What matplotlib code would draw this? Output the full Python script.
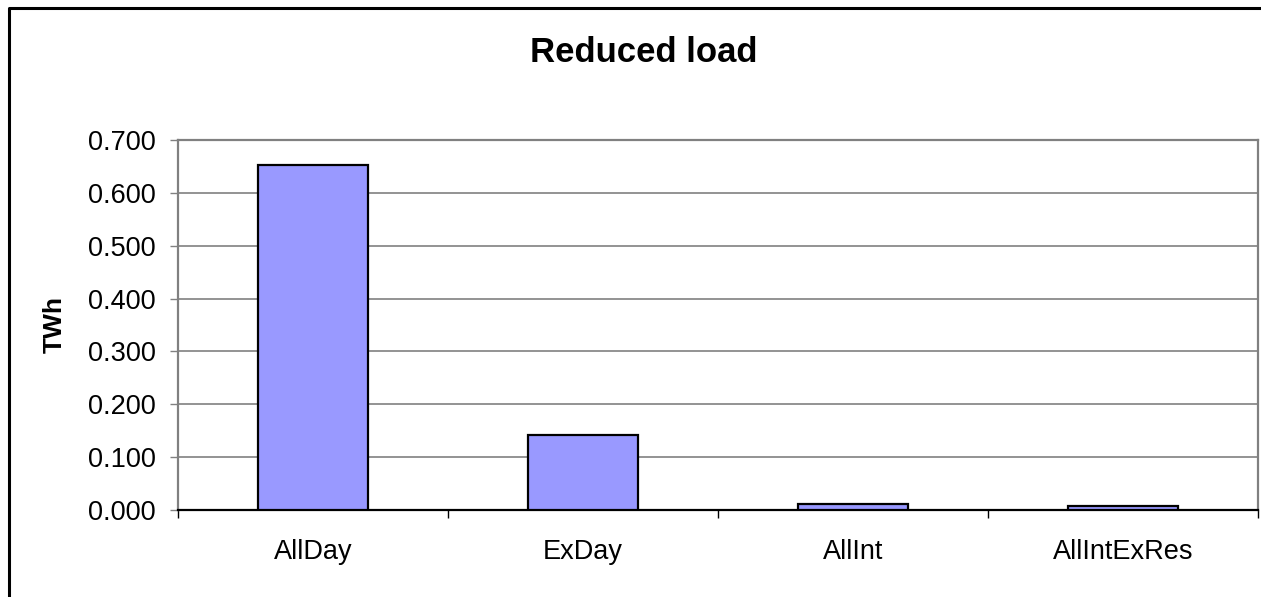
import matplotlib
matplotlib.use('Agg')
import matplotlib.pyplot as plt
from matplotlib.lines import Line2D
from matplotlib.ticker import FormatStrFormatter, FixedLocator

# reduced load per scenario (TWh)
scenarios = ['AllDay', 'ExDay', 'AllInt', 'AllIntExRes']
reduced_twh = [0.653, 0.142, 0.011, 0.008]
y_ticks = [0.0, 0.1, 0.2, 0.3, 0.4, 0.5, 0.6, 0.7]

plt.rcParams['font.family'] = ['Liberation Sans', 'DejaVu Sans']

fig = plt.figure(figsize=(12.61, 5.97), dpi=100)
ax = fig.add_axes([0.1412, 0.1457, 0.8565, 0.6198])

x = list(range(len(scenarios)))
ax.bar(x, reduced_twh, width=0.41, color='#9999FF', edgecolor='black',
       linewidth=1.6, zorder=3)

ax.set_xlim(-0.5, len(scenarios) - 0.5)
ax.set_ylim(0, 0.7)
ax.set_yticks(y_ticks)
ax.yaxis.set_major_formatter(FormatStrFormatter('%.3f'))
ax.set_xticks(x)
ax.set_xticklabels(scenarios)
ax.xaxis.set_minor_locator(FixedLocator([i - 0.5 for i in range(len(scenarios) + 1)]))

ax.grid(axis='y', color='#808080', linewidth=1.2, zorder=0)
ax.tick_params(axis='y', labelsize=19.5, length=6, width=1, color='#808080', pad=10)
ax.tick_params(axis='x', which='major', labelsize=19.5, length=0, pad=21)
ax.tick_params(axis='x', which='minor', length=6, width=1, color='black')

for side in ['top', 'right', 'left']:
    ax.spines[side].set_color('#808080')
    ax.spines[side].set_linewidth(1.6)
ax.spines['bottom'].set_color('black')
ax.spines['bottom'].set_linewidth(1.6)

fig.text(0.5103, 0.8967, 'Reduced load', ha='center', va='baseline',
         fontsize=25, fontweight='bold')
fig.text(0.0436, 0.456, 'TWh', ha='center', va='center', rotation=90,
         fontsize=19, fontweight='bold')

# chart frame (only top and left edges fall inside the image)
fig.add_artist(Line2D([0.0071, 0.0071, 1.01], [-0.01, 0.9866, 0.9866],
                      transform=fig.transFigure, color='black', linewidth=2.2))

fig.savefig('out.png', dpi=100)
